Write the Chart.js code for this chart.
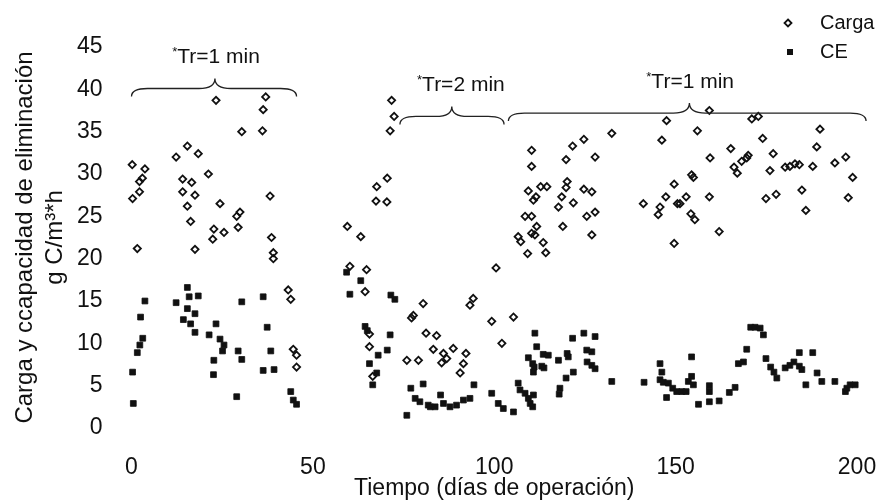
<!DOCTYPE html>
<html lang="es">
<head>
<meta charset="UTF-8">
<title>Carga y capacidad de eliminación</title>
<script src="https://cdn.jsdelivr.net/npm/chart.js"></script>
<style>
  body { margin: 0; background: #fff; }
  #grafico { display: block; }
</style>
</head>
<body>
<canvas id="grafico" width="882" height="502"></canvas>
<script>
// Carga (diamantes abiertos)
const cargaDias = [0.2, 0.3, 1.6, 2.2, 2.2, 3.0, 3.7, 12.3, 14.1, 14.1, 15.4, 15.4, 16.3, 16.6, 17.5, 17.5, 18.4,
  21.2, 22.4, 22.7, 23.3, 24.4, 25.5, 29.0, 29.4, 29.9, 30.4, 36.1, 36.3, 37.0, 38.2, 38.6, 39.1, 39.1,
  43.2, 43.9, 44.6, 45.5, 45.5, 59.5, 60.2, 63.2, 64.4, 64.8, 65.6, 65.6, 66.5, 67.4, 67.6, 70.4, 70.5,
  71.3, 71.7, 72.4, 75.9, 77.2, 77.7, 79.1, 80.4, 81.2, 83.2, 84.1, 85.5, 86.0, 86.9, 88.7, 90.6, 91.5,
  92.2, 93.3, 94.2, 99.3, 100.5, 102.1, 105.3, 106.6, 107.3, 108.5, 109.2, 109.4, 110.3, 110.3, 110.3,
  110.3, 110.8, 111.2, 111.5, 111.7, 112.8, 113.5, 114.2, 114.5, 117.7, 118.6, 118.9, 119.8, 119.8, 120.1,
  121.6, 121.8, 124.7, 124.7, 125.5, 126.9, 126.9, 127.8, 127.8, 132.4, 141.1, 145.2, 145.7, 146.2, 147.3,
  147.5, 149.6, 149.6, 150.5, 151.2, 152.9, 154.2, 154.4, 154.9, 155.3, 156.0, 159.3, 159.3, 159.5, 162.0,
  165.2, 166.1, 167.0, 168.2, 169.6, 170.0, 171.0, 172.8, 174.0, 174.9, 176.0, 176.9, 177.7, 180.2, 181.5,
  182.9, 184.1, 184.8, 185.9, 187.8, 188.9, 189.8, 193.9, 196.9, 197.6, 198.8];
const cargaValores = [31.1, 27.1, 21.2, 29.1, 27.9, 29.5, 30.6, 32.0, 29.4, 27.9, 33.3, 26.2, 24.4, 29.0, 27.5, 21.1, 32.4,
  30.0, 22.3, 23.5, 38.7, 26.5, 23.1, 25.0, 23.7, 25.5, 35.0, 35.1, 37.6, 39.1, 27.4, 22.5, 20.7, 20.0,
  16.3, 15.2, 9.3, 8.6, 7.2, 23.8, 19.1, 22.6, 16.1, 18.7, 11.1, 9.6, 6.1, 26.8, 28.5, 26.7, 29.5,
  35.1, 38.7, 36.8, 8.0, 13.0, 13.3, 8.0, 14.7, 11.2, 9.3, 10.9, 7.7, 8.8, 8.2, 9.4, 6.5, 7.6,
  8.8, 14.5, 15.3, 12.6, 18.9, 10.0, 13.1, 22.6, 22.0, 25.0, 20.6, 28.0, 32.8, 30.9, 25.0,
  23.0, 26.9, 22.8, 27.3, 23.8, 28.5, 21.9, 20.7, 28.5, 26.1, 27.3, 23.8, 31.7, 28.4, 29.1,
  33.3, 26.6, 34.1, 28.2, 25.0, 27.9, 22.8, 32.0, 25.5, 34.8, 26.5, 25.2, 26.1, 34.0, 27.3,
  36.3, 28.8, 21.8, 26.5, 26.5, 27.3, 25.3, 29.9, 29.6, 24.6, 35.1, 37.5, 27.3, 31.9, 23.2,
  33.0, 30.8, 30.1, 31.5, 31.9, 32.2, 36.5, 36.8, 34.2, 27.1, 30.4, 32.4, 27.6, 30.8, 30.9,
  31.2, 31.1, 28.1, 25.7, 30.9, 33.2, 35.3, 31.3, 32.0, 27.2, 29.6];

// CE (cuadrados llenos)
const ceDias = [0.3, 0.5, 1.6, 2.3, 2.5, 3.1, 3.7, 12.3, 14.3, 15.4, 15.4, 15.9, 16.3, 17.5, 17.5, 18.4,
  21.4, 22.6, 22.7, 23.3, 24.4, 25.1, 25.5, 29.0, 29.4, 30.4, 30.4, 36.3, 36.3, 37.4, 38.4, 39.3,
  43.9, 44.6, 45.5, 59.3, 60.2, 63.2, 64.4, 65.0, 65.6, 66.5, 67.6, 68.0, 70.5, 71.3, 71.5, 72.6,
  75.9, 77.0, 78.2, 79.5, 80.4, 81.8, 82.4, 83.7, 85.2, 86.0, 87.8, 89.6, 91.5, 93.3, 94.4,
  99.3, 101.1, 102.5, 105.3, 106.6, 107.1, 108.5, 109.4, 109.4, 109.9, 110.6, 110.6, 110.8, 110.8,
  111.0, 111.2, 111.7, 113.1, 113.5, 113.7, 114.9, 117.7, 117.9, 118.1, 119.8, 120.1, 120.4, 121.6,
  121.8, 124.7, 125.5, 125.6, 126.9, 126.9, 127.8, 127.8, 132.4, 141.3, 145.7, 145.7, 146.2, 146.6,
  147.5, 148.0, 149.2, 150.3, 151.7, 152.9, 153.5, 154.4, 154.4, 154.9, 156.3, 159.3, 159.3, 159.3,
  162.0, 164.8, 166.4, 167.3, 168.7, 169.6, 170.7, 171.9, 173.3, 174.2, 174.9, 176.2, 177.1, 177.9,
  180.2, 181.5, 182.6, 184.1, 184.1, 184.8, 185.9, 187.8, 189.0, 190.3, 193.9, 196.8, 197.2, 198.1, 199.5];
const ceValores = [6.6, 2.9, 8.9, 9.8, 13.1, 10.6, 15.0, 14.8, 12.8, 16.6, 14.1, 15.5, 12.3, 13.5, 11.3, 15.6,
  11.0, 6.3, 8.0, 12.3, 10.5, 9.1, 9.8, 3.7, 9.1, 14.9, 8.1, 15.5, 6.8, 11.9, 9.1, 6.9,
  4.3, 3.3, 2.8, 18.4, 15.8, 17.4, 12.0, 11.5, 7.6, 5.1, 6.5, 8.6, 9.2, 11.0, 15.7, 15.2,
  1.5, 4.7, 3.5, 3.1, 5.2, 2.7, 2.5, 2.5, 3.9, 2.9, 2.5, 2.7, 3.3, 3.5, 5.1,
  4.1, 2.9, 2.3, 1.9, 5.3, 4.5, 4.1, 8.3, 3.5, 2.9, 7.6, 2.5, 3.9, 6.6,
  7.2, 11.2, 9.6, 7.3, 8.7, 7.1, 8.6, 8.0, 4.0, 4.7, 5.9, 8.8, 8.4, 10.6,
  6.6, 11.2, 9.2, 7.8, 9.0, 7.4, 10.8, 7.0, 5.5, 5.4, 7.6, 5.7, 6.6, 5.4,
  3.6, 5.3, 4.7, 4.3, 4.3, 4.3, 5.5, 8.4, 6.1, 5.1, 2.8, 5.0, 4.3, 3.1,
  3.2, 4.2, 4.8, 7.6, 7.8, 9.3, 11.9, 11.9, 11.8, 11.0, 8.2, 7.2, 6.6, 5.9,
  7.1, 7.4, 7.8, 8.9, 7.3, 6.9, 5.1, 8.9, 6.5, 5.5, 5.5, 4.3, 4.7, 5.1, 5.1];

const ticksX = [0, 50, 100, 150, 200];
const ticksY = [0, 5, 10, 15, 20, 25, 30, 35, 40, 45];

// periodos de tiempo de residencia (llaves sobre los puntos)
const periodos = [
  { texto: 'Tr=1 min', desde: 0, hasta: 45.5, pico: 23, nivel: 40.1, textoDia: 23.3 },
  { texto: 'Tr=2 min', desde: 74.0, hasta: 102.7, pico: 88.3, nivel: 36.8, textoDia: 90.8 },
  { texto: 'Tr=1 min', desde: 103.9, hasta: 202.5, pico: 153.8, nivel: 37.2, textoDia: 154 }
];

const fuente = '"Liberation Sans", Arial, sans-serif';

function puntos(xs, ys) {
  return xs.map((d, i) => ({ x: d, y: ys[i] }));
}

const extras = {
  id: 'extras',
  afterDatasetsDraw(chart) {
    const { ctx, scales: { x, y } } = chart;
    ctx.save();
    // llaves
    ctx.strokeStyle = '#222';
    ctx.lineWidth = 1.3;
    periodos.forEach(p => {
      const x0 = x.getPixelForValue(p.desde);
      const x1 = x.getPixelForValue(p.hasta);
      const xm = x.getPixelForValue(p.pico);
      const yf = y.getPixelForValue(p.nivel);
      const ye = yf + 8, yp = yf - 10, r = 16;
      ctx.beginPath();
      ctx.moveTo(x0, ye);
      ctx.quadraticCurveTo(x0, yf, x0 + r, yf);
      ctx.lineTo(xm - r, yf);
      ctx.quadraticCurveTo(xm, yf, xm, yp);
      ctx.quadraticCurveTo(xm, yf, xm + r, yf);
      ctx.lineTo(x1 - r, yf);
      ctx.quadraticCurveTo(x1, yf, x1, ye);
      ctx.stroke();

      // etiqueta con asterisco pequeño
      ctx.fillStyle = '#111';
      ctx.textBaseline = 'middle';
      ctx.textAlign = 'left';
      ctx.font = '21px ' + fuente;
      const wt = ctx.measureText(p.texto).width;
      ctx.font = '13px ' + fuente;
      const wa = ctx.measureText('*').width;
      const cx = x.getPixelForValue(p.textoDia);
      const cy = yf - 31;
      const sx = cx - (wt + wa) / 2;
      ctx.fillText('*', sx, cy - 5);
      ctx.font = '21px ' + fuente;
      ctx.fillText(p.texto, sx + wa, cy);
    });

    // leyenda
    ctx.lineWidth = 1.8;
    ctx.strokeStyle = '#111';
    ctx.beginPath();
    ctx.moveTo(788, 19.5); ctx.lineTo(791.5, 23); ctx.lineTo(788, 26.5); ctx.lineTo(784.5, 23); ctx.closePath();
    ctx.stroke();
    ctx.fillStyle = '#111';
    ctx.fillRect(787, 49, 6, 6);
    ctx.font = '20px ' + fuente;
    ctx.textAlign = 'left';
    ctx.textBaseline = 'middle';
    ctx.fillText('Carga', 820, 23);
    ctx.fillText('CE', 820, 52);
    ctx.restore();
  }
};

new Chart(document.getElementById('grafico'), {
  type: 'scatter',
  data: {
    datasets: [{
      label: 'Carga',
      data: puntos(cargaDias, cargaValores),
      pointStyle: 'rectRot',
      pointRadius: 3.6,
      borderWidth: 1.8,
      borderColor: '#111',
      backgroundColor: 'rgba(0,0,0,0)',
      clip: false
    }, {
      label: 'CE',
      data: puntos(ceDias, ceValores),
      pointStyle: 'rect',
      pointRadius: 4.1,
      borderWidth: 0.8,
      borderColor: '#111',
      backgroundColor: '#111',
      clip: false
    }]
  },
  options: {
    responsive: false,
    animation: false,
    events: [],
    layout: { padding: { top: 47, right: 25, left: 0, bottom: 0 } },
    plugins: { legend: { display: false }, tooltip: { enabled: false } },
    scales: {
      x: {
        type: 'linear',
        min: 0,
        max: 200,
        grid: { display: false },
        border: { display: false },
        afterBuildTicks: s => { s.ticks = ticksX.map(v => ({ value: v })); },
        afterFit: s => { s.height = 74; s.paddingLeft = 0; s.paddingRight = 0; },
        ticks: { color: '#111', padding: 18, font: { family: fuente, size: 23 } },
        title: {
          display: true,
          text: 'Tiempo (días de operación)',
          color: '#111',
          padding: 0,
          font: { family: fuente, size: 23 }
        }
      },
      y: {
        type: 'linear',
        min: 0,
        max: 45,
        grid: { display: false },
        border: { display: false },
        afterBuildTicks: s => { s.ticks = ticksY.map(v => ({ value: v })); },
        afterFit: s => { s.width = 131.5; },
        ticks: { color: '#111', padding: 21, font: { family: fuente, size: 23 } },
        title: {
          display: true,
          text: ['Carga y ccapacidad de eliminación', 'g C/m³*h'],
          color: '#111',
          padding: { top: 10, bottom: 0 },
          font: { family: fuente, size: 24, lineHeight: 1.25 }
        }
      }
    }
  },
  plugins: [extras]
});
</script>
</body>
</html>
